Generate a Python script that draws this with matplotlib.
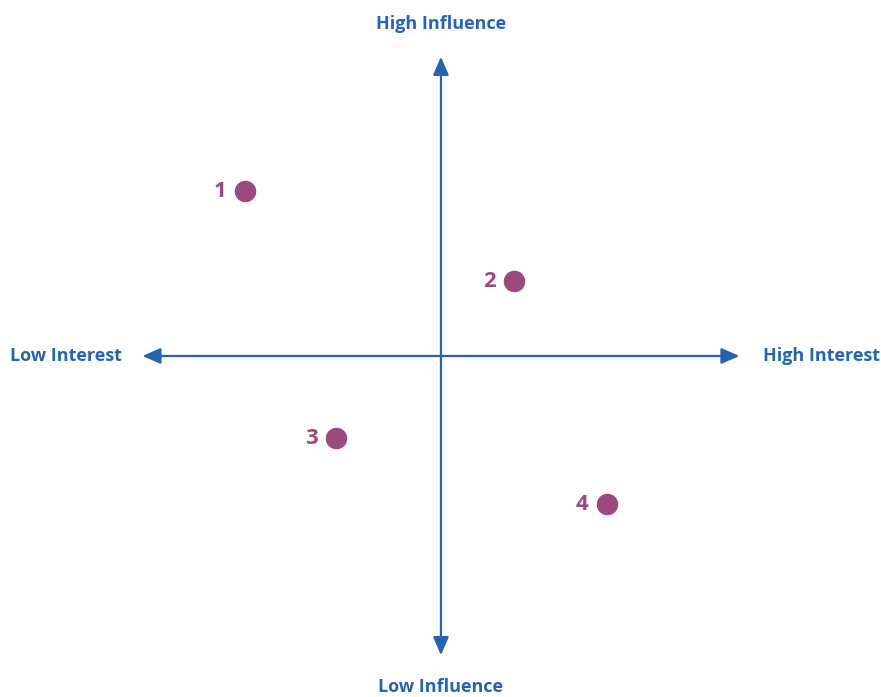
import matplotlib
matplotlib.use("Agg")
import matplotlib.pyplot as plt
from matplotlib.patches import FancyArrowPatch

plt.rcParams["font.family"] = ["Open Sans", "DejaVu Sans"]

# stakeholder positions: interest (x), influence (y), on a -10..10 scale
labels = ["1", "2", "3", "4"]
interest = [-6.55, 2.45, -3.5, 5.55]
influence = [5.5, 2.5, -2.75, -4.95]

blue = "#2465ae"
purple = "#9b4a7d"

fig = plt.figure(figsize=(8.81, 6.97), dpi=100)
ax = fig.add_axes([0, 0, 1, 1])
ax.set_xlim(-14.77, 14.74)
ax.set_ylim(-11.40, 11.90)
ax.axis("off")

for start, end in [((-10, 0), (10, 0)), ((0, -10), (0, 10))]:
    arr = FancyArrowPatch(start, end, arrowstyle="<|-|>,head_length=5.5,head_width=2.4",
                          color=blue, linewidth=1.6, shrinkA=0, shrinkB=0,
                          mutation_scale=2)
    ax.add_patch(arr)

ax.plot(interest, influence, "o", color=purple, markersize=14.5, linestyle="none")
for lab, x, y in zip(labels, interest, influence):
    ax.text(x - 0.62, y, lab, color=purple, fontsize=16, fontweight="bold",
            ha="right", va="center")

tkw = dict(color=blue, fontsize=13, fontweight="bold", ha="center", va="center")
ax.text(0, 11.1, "High Influence", **tkw)
ax.text(0, -11.05, "Low Influence", **tkw)
ax.text(-12.55, 0, "Low Interest", **tkw)
ax.text(12.75, 0, "High Interest", **tkw)

fig.savefig("out.png", dpi=100)
